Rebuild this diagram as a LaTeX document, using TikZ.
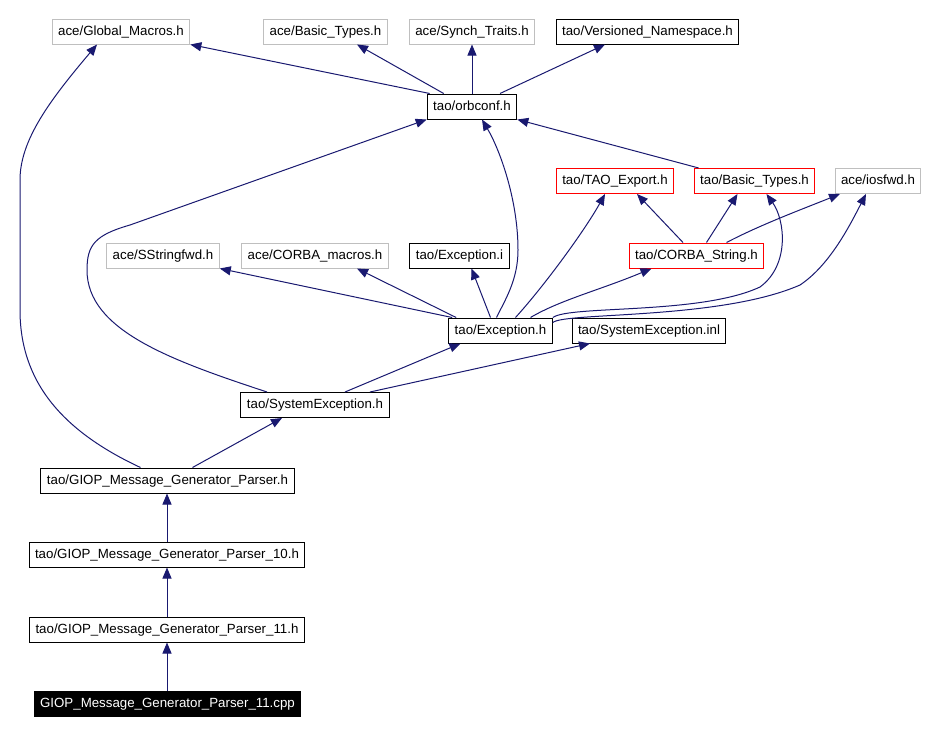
\documentclass[tikz,border=0pt]{standalone}
\usepackage{fontspec}
\setmainfont{Liberation Sans}
\usetikzlibrary{arrows.meta}
\definecolor{edgeblue}{HTML}{191970}
\definecolor{extgray}{HTML}{BFBFBF}
\begin{document}
\begin{tikzpicture}[x=1pt,y=-1pt,
		file/.style={draw=black, line width=1pt, font=\fontsize{13.3}{15}\selectfont, inner xsep=6pt, minimum height=25pt, text height=10pt, text depth=3pt},
		extfile/.style={file, draw=extgray},
		redfile/.style={file, draw=red},
		mainfile/.style={file, fill=black, text=white},
		dep/.style={draw=edgeblue, line width=1pt, -{Triangle[length=11pt,width=9pt]}}]
				\useasboundingbox (0,0) rectangle (926,734);
				\node [extfile] (gmac) at (121,31.5) {ace/Global\_Macros.h};
				\node [extfile] (abt) at (325.5,31.5) {ace/Basic\_Types.h};
				\node [extfile] (sync) at (472,31.5) {ace/Synch\_Traits.h};
				\node [file] (vns) at (647.5,31.5) {tao/Versioned\_Namespace.h};
				\node [file] (orbconf) at (472,106.5) {tao/orbconf.h};
				\node [redfile] (taoexp) at (615,181) {tao/TAO\_Export.h};
				\node [redfile] (tbt) at (754.5,181) {tao/Basic\_Types.h};
				\node [extfile] (iosfwd) at (878,181) {ace/iosfwd.h};
				\node [extfile] (sstr) at (163,255.5) {ace/SStringfwd.h};
				\node [extfile] (cmac) at (315,255.5) {ace/CORBA\_macros.h};
				\node [file] (exi) at (459.5,255.5) {tao/Exception.i};
				\node [redfile] (cstr) at (696.5,255.5) {tao/CORBA\_String.h};
				\node [file] (exh) at (500.5,330.5) {tao/Exception.h};
				\node [file] (seinl) at (649,330.5) {tao/SystemException.inl};
				\node [file] (seh) at (315,405) {tao/SystemException.h};
				\node [file] (gparser) at (167.5,480.5) {tao/GIOP\_Message\_Generator\_Parser.h};
				\node [file] (gten) at (167,554.5) {tao/GIOP\_Message\_Generator\_Parser\_10.h};
				\node [file] (geleven) at (167,629.5) {tao/GIOP\_Message\_Generator\_Parser\_11.h};
				\node [mainfile] (cpp) at (167.5,704) {GIOP\_Message\_Generator\_Parser\_11.cpp};
				\draw [dep] ([xshift=3pt]orbconf.north west) -- (gmac.south east);
				\draw [dep] ([xshift=17pt]orbconf.north west) -- ([xshift=31.5pt]abt.south);
				\draw [dep] (orbconf.north) -- (sync.south);
				\draw [dep] ([xshift=28pt]orbconf.north) -- ([xshift=-42.5pt]vns.south);
				\draw [dep] ([xshift=5pt]tbt.north west) -- (orbconf.south east);
				\draw [dep] ([xshift=-4pt]exh.north) .. controls (505,300) and (518,280) .. (518,250) .. controls (518,200) and (500,150) .. ([xshift=10pt]orbconf.south);
				\draw [dep] ([xshift=-48pt]seh.north) .. controls (170,360) and (87,330) .. (87,270) .. controls (87,245) and (95,235) .. (130,225) -- (orbconf.south west);
				\draw [dep] ([xshift=-27pt]gparser.north) .. controls (60,430) and (20,380) .. (20,310) -- (20,180) .. controls (20,140) and (50,100) .. ([xshift=-24pt]gmac.south);
				\draw [dep] ([xshift=25pt]gparser.north) -- ([xshift=-33pt]seh.south);
				\draw [dep] ([xshift=30pt]seh.north) -- ([xshift=-40pt]exh.south);
				\draw [dep] ([xshift=55pt]seh.north) -- ([xshift=-59pt]seinl.south);
				\draw [dep] ([xshift=4pt]exh.north west) -- (sstr.south east);
				\draw [dep] ([xshift=8pt]exh.north west) -- ([xshift=42pt]cmac.south);
				\draw [dep] ([xshift=-10pt]exh.north) -- ([xshift=12pt]exi.south);
				\draw [dep] ([xshift=15pt]exh.north) .. controls (545,285) and (585,230) .. ([xshift=-10pt]taoexp.south);
				\draw [dep] ([xshift=30pt]exh.north) .. controls (560,300) and (600,290) .. ([xshift=-45pt]cstr.south);
				\draw [dep] (exh.north east) .. controls (570,305) and (700,315) .. (760,287) .. controls (790,265) and (785,220) .. ([xshift=12pt]tbt.south);
				\draw [dep] ([yshift=-5pt]exh.north east) .. controls (565,312) and (720,320) .. (800,285) .. controls (830,265) and (850,225) .. ([xshift=-12pt]iosfwd.south);
				\draw [dep] ([xshift=-13.5pt]cstr.north) -- ([xshift=22pt]taoexp.south);
				\draw [dep] ([xshift=10pt]cstr.north) -- ([xshift=-17pt]tbt.south);
				\draw [dep] ([xshift=30pt]cstr.north) .. controls (760,225) and (800,210) .. ([xshift=-38pt]iosfwd.south);
				\draw [dep] (gten.north) -- (gten.north |- gparser.south);
				\draw [dep] (geleven.north) -- (gten.south);
				\draw [dep] (cpp.north -| geleven.south) -- (geleven.south);
			\end{tikzpicture}
\end{document}
